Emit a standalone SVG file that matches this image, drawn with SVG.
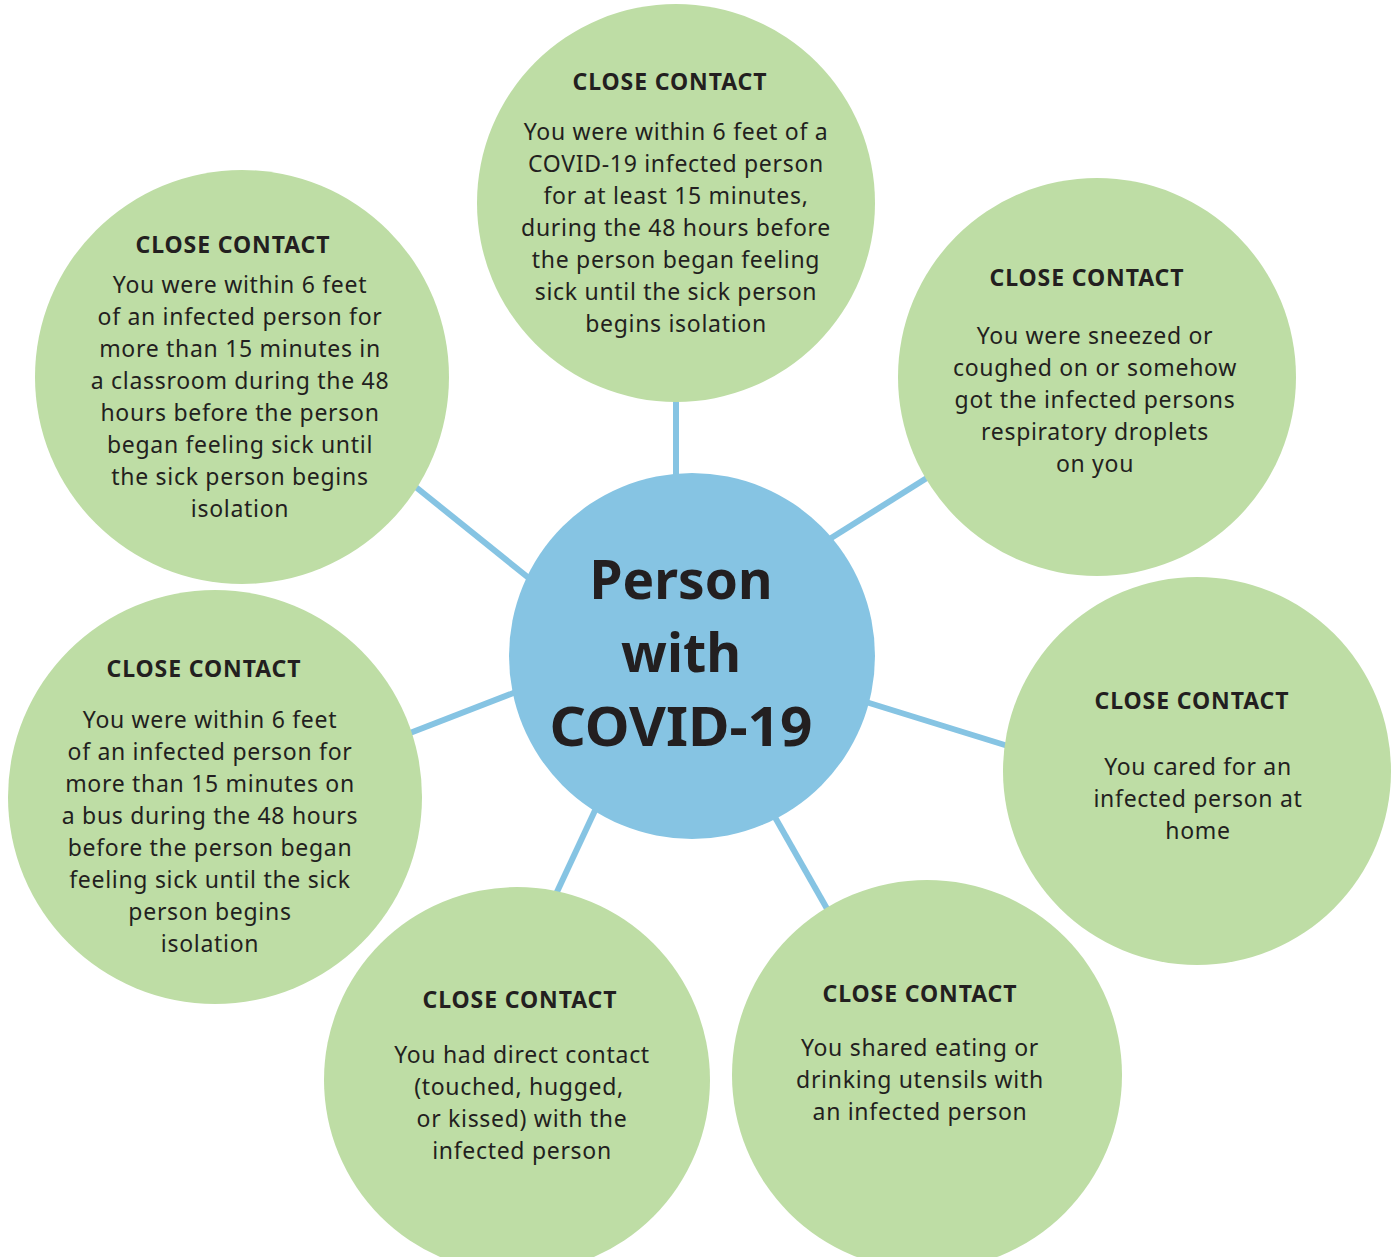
<svg xmlns="http://www.w3.org/2000/svg" width="1400" height="1257" viewBox="0 0 1400 1257">
<style>
.bg{fill:#ffffff}
.node{fill:#BEDDA5}
.hub{fill:#86C4E3}
.conn{stroke:#86C4E3;stroke-width:6;fill:none}
.t{font-family:"Noto Sans","Open Sans",sans-serif;fill:#231F20;text-anchor:middle}
.h{font-size:23px;font-weight:bold;letter-spacing:0.9px}
.b{font-size:23px;letter-spacing:0.7px}
.c{font-size:53px;font-weight:bold}
</style>
<rect class="bg" width="1400" height="1257"/>
<g id="connectors">
<line class="conn" x1="676" y1="390" x2="676" y2="482"/>
<line class="conn" x1="412" y1="484" x2="530" y2="579"/>
<line class="conn" x1="930" y1="476" x2="828" y2="540"/>
<line class="conn" x1="866" y1="702" x2="1008" y2="746"/>
<line class="conn" x1="772" y1="812" x2="830" y2="914"/>
<line class="conn" x1="598" y1="804" x2="556" y2="894"/>
<line class="conn" x1="410" y1="733" x2="516" y2="692"/>
</g>
<g id="hub">
<circle class="hub" cx="692" cy="656" r="183"/>
<text class="t c" x="681" y="599" textLength="183" lengthAdjust="spacingAndGlyphs">Person</text>
<text class="t c" x="681" y="672" textLength="120" lengthAdjust="spacingAndGlyphs">with</text>
<text class="t c" x="681" y="746" textLength="263" lengthAdjust="spacingAndGlyphs">COVID-19</text>
</g>
<g id="node-top">
<circle class="node" cx="676" cy="203" r="199"/>
<text class="t h" x="670" y="90">CLOSE CONTACT</text>
<text class="t b" x="676" y="140">You were within 6 feet of a</text>
<text class="t b" x="676" y="172">COVID-19 infected person</text>
<text class="t b" x="676" y="204">for at least 15 minutes,</text>
<text class="t b" x="676" y="236">during the 48 hours before</text>
<text class="t b" x="676" y="268">the person began feeling</text>
<text class="t b" x="676" y="300">sick until the sick person</text>
<text class="t b" x="676" y="332">begins isolation</text>
</g>
<g id="node-top-left">
<circle class="node" cx="242" cy="377" r="207"/>
<text class="t h" x="233" y="253">CLOSE CONTACT</text>
<text class="t b" x="240" y="293">You were within 6 feet</text>
<text class="t b" x="240" y="325">of an infected person for</text>
<text class="t b" x="240" y="357">more than 15 minutes in</text>
<text class="t b" x="240" y="389">a classroom during the 48</text>
<text class="t b" x="240" y="421">hours before the person</text>
<text class="t b" x="240" y="453">began feeling sick until</text>
<text class="t b" x="240" y="485">the sick person begins</text>
<text class="t b" x="240" y="517">isolation</text>
</g>
<g id="node-top-right">
<circle class="node" cx="1097" cy="377" r="199"/>
<text class="t h" x="1087" y="286">CLOSE CONTACT</text>
<text class="t b" x="1095" y="344">You were sneezed or</text>
<text class="t b" x="1095" y="376">coughed on or somehow</text>
<text class="t b" x="1095" y="408">got the infected persons</text>
<text class="t b" x="1095" y="440">respiratory droplets</text>
<text class="t b" x="1095" y="472">on you</text>
</g>
<g id="node-right">
<circle class="node" cx="1197" cy="771" r="194"/>
<text class="t h" x="1192" y="709">CLOSE CONTACT</text>
<text class="t b" x="1198" y="775">You cared for an</text>
<text class="t b" x="1198" y="807">infected person at</text>
<text class="t b" x="1198" y="839">home</text>
</g>
<g id="node-bottom-right">
<circle class="node" cx="927" cy="1075" r="195"/>
<text class="t h" x="920" y="1002">CLOSE CONTACT</text>
<text class="t b" x="920" y="1056">You shared eating or</text>
<text class="t b" x="920" y="1088">drinking utensils with</text>
<text class="t b" x="920" y="1120">an infected person</text>
</g>
<g id="node-bottom-left">
<circle class="node" cx="517" cy="1080" r="193"/>
<text class="t h" x="520" y="1008">CLOSE CONTACT</text>
<text class="t b" x="522" y="1063">You had direct contact</text>
<text class="t b" x="519" y="1095">(touched, hugged,</text>
<text class="t b" x="522" y="1127">or kissed) with the</text>
<text class="t b" x="522" y="1159">infected person</text>
</g>
<g id="node-left">
<circle class="node" cx="215" cy="797" r="207"/>
<text class="t h" x="204" y="677">CLOSE CONTACT</text>
<text class="t b" x="210" y="728">You were within 6 feet</text>
<text class="t b" x="210" y="760">of an infected person for</text>
<text class="t b" x="210" y="792">more than 15 minutes on</text>
<text class="t b" x="210" y="824">a bus during the 48 hours</text>
<text class="t b" x="210" y="856">before the person began</text>
<text class="t b" x="210" y="888">feeling sick until the sick</text>
<text class="t b" x="210" y="920">person begins</text>
<text class="t b" x="210" y="952">isolation</text>
</g>
</svg>
